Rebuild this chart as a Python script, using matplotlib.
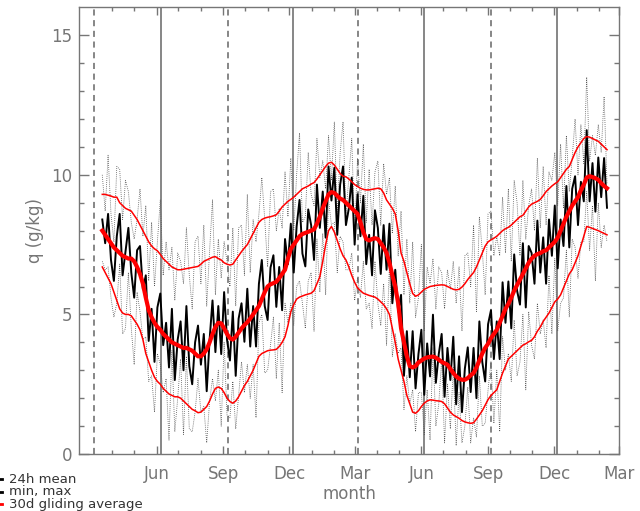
import matplotlib
matplotlib.use('Agg')
import matplotlib.pyplot as plt
from matplotlib.lines import Line2D
import numpy as np

plt.rcParams['font.family'] = ['DejaVu Sans']

GRAY = '#767676'

# day of series (days since 1 Jan of the first year), one value every 4 days
days = np.arange(76, 773, 4)

# 24h mean of specific humidity (g/kg)
q_mean = [8.4, 7.55, 8.6, 6.95, 6.2, 7.8, 8.6, 6.4, 7.25, 8.1,
          6.5, 5.6, 7.3, 7.45, 5.9, 6.4, 4.05, 5.2, 3.3, 5.25,
          5.75, 3.9, 4.7, 3.1, 5.2, 2.65, 4.1, 4.75, 3.0, 5.3,
          3.15, 2.5, 4.0, 4.6, 3.2, 4.3, 2.25, 4.1, 5.5, 3.65,
          5.3, 3.58, 5.8, 4.1, 3.35, 5.1, 2.8, 4.85, 5.4, 4.02,
          5.92, 3.85, 5.3, 3.85, 6.1, 6.95, 5.3, 4.8, 6.68, 7.12,
          5.27, 6.7, 5.15, 7.7, 6.8, 8.25, 6.5, 8.15, 9.1, 7.18,
          6.72, 8.76, 8.2, 6.95, 9.65, 8.1, 9.4, 7.75, 10.3, 9.08,
          10.25, 7.85, 9.65, 10.3, 8.2, 8.8, 9.9, 7.5, 9.3, 7.8,
          9.25, 6.8, 7.85, 6.4, 8.73, 8.1, 6.45, 8.2, 6.6, 8.25,
          5.4, 6.6, 5.1, 5.7, 2.8, 4.4, 2.75, 4.4, 2.35, 3.58,
          4.45, 2.12, 3.96, 2.78, 4.99, 2.55, 3.58, 4.3, 2.05, 3.8,
          2.65, 4.2, 1.78, 3.5, 1.5, 3.06, 3.82, 2.22, 3.8, 2.0,
          4.75, 3.3, 2.6, 4.65, 5.15, 3.4, 4.75, 3.4, 6.15, 4.7,
          6.18, 4.5, 7.15, 5.85, 5.35, 7.55, 5.25, 7.45, 7.2, 6.1,
          8.36, 6.5, 7.76, 6.1, 8.4, 7.1, 8.9, 6.65, 8.4, 7.45,
          9.6, 7.4, 9.5, 9.95, 8.2, 9.75, 9.05, 11.6, 9.05, 10.42,
          8.68, 10.62, 9.2, 10.6, 8.82]

# daily maximum
q_max = [10.0, 8.7, 10.7, 8.6, 7.6, 10.3, 10.2, 8.4, 9.8, 9.4,
         8.3, 7.7, 8.4, 9.5, 7.8, 8.9, 6.2, 8.3, 6.0, 7.6,
         9.1, 6.4, 7.6, 6.6, 7.4, 5.5, 7.2, 6.9, 6.1, 8.1,
         6.4, 5.2, 7.6, 7.8, 6.1, 8.2, 5.3, 7.3, 9.1, 5.7,
         7.7, 6.3, 7.6, 6.9, 6.0, 8.1, 5.3, 8.1, 8.2, 6.4,
         9.3, 6.5, 8.4, 7.6, 8.6, 9.9, 8.4, 6.7, 9.4, 9.5,
         8.0, 8.8, 8.1, 10.1, 8.5, 10.6, 8.0, 10.0, 11.5, 8.3,
         8.5, 10.8, 9.3, 8.9, 11.3, 9.9, 10.5, 9.5, 11.4, 9.8,
         11.9, 8.6, 10.8, 11.9, 8.6, 9.9, 11.3, 7.9, 10.6, 9.0,
         11.1, 8.3, 10.2, 8.2, 10.1, 10.5, 8.2, 10.4, 9.3, 9.9,
         7.9, 9.6, 7.1, 8.7, 5.7, 7.7, 5.4, 7.6, 4.9, 5.6,
         7.5, 4.4, 6.7, 6.1, 7.0, 5.2, 6.7, 6.5, 5.2, 6.6,
         5.9, 6.9, 5.4, 6.7, 4.4, 7.1, 7.2, 6.0, 8.2, 5.1,
         8.5, 7.3, 5.7, 8.6, 8.7, 7.1, 7.8, 7.1, 9.2, 7.2,
         9.5, 6.9, 9.8, 9.0, 7.1, 9.8, 7.7, 8.9, 9.5, 8.0,
         10.6, 8.1, 10.3, 8.2, 10.1, 9.8, 10.8, 8.9, 11.1, 8.8,
         11.4, 9.4, 10.6, 12.0, 10.0, 11.8, 10.4, 13.5, 10.5, 11.4,
         10.7, 11.8, 10.8, 12.8, 9.7]

# daily minimum
q_min = [6.9, 6.6, 6.7, 5.6, 4.9, 5.4, 6.8, 4.3, 4.5, 6.5,
         4.5, 3.2, 5.8, 5.1, 4.1, 4.2, 2.6, 2.8, 1.5, 3.6,
         3.2, 2.2, 2.7, 0.5, 3.7, 0.8, 2.0, 3.4, 0.7, 3.5,
         0.9, 0.8, 1.5, 2.7, 1.5, 1.7, 0.4, 1.9, 2.7, 1.9,
         3.0, 1.0, 4.0, 1.4, 1.3, 2.6, 0.9, 2.1, 3.3, 2.2,
         3.2, 2.0, 3.2, 1.3, 4.7, 5.0, 2.9, 3.0, 3.9, 4.9,
         2.7, 4.7, 2.2, 5.4, 4.7, 5.4, 4.6, 6.0, 6.2, 5.4,
         4.5, 6.2, 6.5, 4.4, 7.7, 5.8, 7.9, 5.7, 9.1, 8.2,
         8.3, 6.5, 7.8, 7.6, 6.6, 6.6, 7.2, 5.5, 6.3, 5.6,
         6.9, 5.2, 5.4, 4.5, 6.9, 5.4, 4.6, 6.1, 3.9, 6.8,
         3.5, 4.3, 3.6, 3.8, 1.6, 2.8, 1.8, 2.3, 0.8, 2.2,
         2.2, 0.7, 2.3, 0.5, 3.8, 1.0, 1.8, 3.4, 0.4, 2.5,
         0.9, 3.1, 0.3, 2.2, 0.4, 1.0, 2.4, 0.4, 1.3, 0.6,
         2.8, 1.0, 1.1, 2.3, 3.3, 1.1, 3.0, 0.8, 4.2, 3.0,
         3.6, 2.6, 4.8, 2.8, 3.3, 5.0, 2.3, 5.1, 3.9, 3.4,
         5.4, 4.3, 4.8, 3.8, 6.4, 4.3, 7.0, 4.4, 5.4, 5.6,
         7.3, 4.9, 7.7, 7.4, 6.3, 7.6, 7.6, 9.4, 7.3, 8.9,
         6.2, 9.0, 7.4, 8.2, 7.6]

# 30 day gliding averages of mean, max and min
avg_mean = [8.0, 7.85, 7.7, 7.55, 7.4, 7.3, 7.2, 7.1, 7.05, 7.0,
            7.0, 6.9, 6.7, 6.45, 6.1, 5.6, 5.15, 4.9, 4.7, 4.55,
            4.45, 4.3, 4.2, 4.1, 4.0, 3.95, 3.9, 3.85, 3.8, 3.8,
            3.75, 3.7, 3.6, 3.5, 3.5, 3.6, 3.75, 4.0, 4.3, 4.55,
            4.7, 4.68, 4.5, 4.3, 4.15, 4.1, 4.2, 4.35, 4.5, 4.62,
            4.72, 4.85, 5.0, 5.15, 5.3, 5.55, 5.8, 6.0, 6.08, 6.12,
            6.17, 6.3, 6.45, 6.6, 7.0, 7.35, 7.5, 7.65, 7.8, 7.88,
            7.92, 7.96, 8.0, 8.05, 8.25, 8.5, 8.8, 9.05, 9.3, 9.38,
            9.35, 9.25, 9.15, 9.1, 9.0, 8.9, 8.8, 8.7, 8.6, 8.3,
            7.95, 7.7, 7.65, 7.7, 7.73, 7.7, 7.55, 7.4, 7.2, 6.85,
            6.4, 6.0, 5.4, 4.5, 4.0, 3.5, 3.15, 3.1, 3.15, 3.28,
            3.35, 3.42, 3.46, 3.48, 3.49, 3.45, 3.38, 3.3, 3.25, 3.2,
            3.05, 2.9, 2.78, 2.7, 2.66, 2.66, 2.72, 2.82, 2.9, 3.1,
            3.35, 3.6, 3.8, 3.95, 4.15, 4.3, 4.45, 4.7, 4.95, 5.2,
            5.38, 5.6, 5.85, 6.05, 6.25, 6.45, 6.65, 6.85, 7.0, 7.1,
            7.16, 7.2, 7.26, 7.3, 7.4, 7.5, 7.6, 7.75, 8.0, 8.25,
            8.5, 8.7, 8.9, 9.05, 9.2, 9.45, 9.65, 9.9, 9.95, 9.92,
            9.88, 9.82, 9.7, 9.6, 9.52]

avg_max = [9.3, 9.3, 9.27, 9.24, 9.2, 9.2, 9.0, 8.9, 8.8, 8.75,
           8.7, 8.55, 8.4, 8.2, 8.0, 7.8, 7.6, 7.45, 7.35, 7.28,
           7.15, 7.0, 6.9, 6.8, 6.7, 6.65, 6.6, 6.6, 6.62, 6.64,
           6.66, 6.68, 6.7, 6.72, 6.8, 6.9, 6.95, 7.0, 7.05, 7.07,
           7.0, 6.95, 6.85, 6.8, 6.77, 6.8, 6.95, 7.1, 7.25, 7.38,
           7.5, 7.7, 7.9, 8.1, 8.3, 8.4, 8.45, 8.48, 8.5, 8.53,
           8.57, 8.7, 8.85, 8.95, 9.05, 9.12, 9.2, 9.3, 9.4, 9.5,
           9.55, 9.6, 9.67, 9.72, 9.85, 10.0, 10.15, 10.3, 10.42, 10.45,
           10.35, 10.2, 10.05, 9.95, 9.93, 9.85, 9.75, 9.65, 9.58, 9.52,
           9.48, 9.46, 9.46, 9.48, 9.5, 9.52, 9.5, 9.35, 9.1, 8.95,
           8.8, 8.6, 8.0, 7.2, 6.9, 6.5, 6.1, 5.75, 5.65, 5.7,
           5.8, 5.9, 5.95, 6.0, 6.02, 6.04, 6.05, 6.06, 6.05, 6.0,
           5.95, 5.9, 5.88, 5.9, 5.98, 6.1, 6.25, 6.38, 6.5, 6.7,
           6.95, 7.2, 7.45, 7.6, 7.67, 7.73, 7.8, 7.9, 8.0, 8.07,
           8.12, 8.2, 8.3, 8.4, 8.5, 8.55, 8.7, 8.85, 8.95, 9.0,
           9.05, 9.12, 9.25, 9.4, 9.5, 9.6, 9.68, 9.75, 9.9, 10.05,
           10.2, 10.3, 10.55, 10.8, 11.0, 11.15, 11.3, 11.37, 11.35, 11.3,
           11.25, 11.2, 11.1, 11.0, 10.9]

avg_min = [6.7, 6.5, 6.3, 6.1, 5.8, 5.5, 5.2, 5.05, 5.0, 5.0,
           4.95, 4.8, 4.65, 4.45, 4.1, 3.6, 3.3, 3.0, 2.75, 2.6,
           2.5, 2.35, 2.25, 2.15, 2.1, 2.05, 2.05, 2.0, 1.9, 1.8,
           1.7, 1.6, 1.55, 1.48, 1.5, 1.6, 1.7, 1.9, 2.15, 2.35,
           2.4, 2.35, 2.2, 2.0, 1.88, 1.82, 1.9, 2.05, 2.25, 2.45,
           2.6, 2.8, 3.0, 3.25, 3.5, 3.6, 3.65, 3.7, 3.72, 3.73,
           3.75, 3.85, 4.0, 4.2, 4.6, 5.1, 5.35, 5.55, 5.62, 5.66,
           5.7, 5.73, 5.76, 5.85, 6.1, 6.35, 6.9, 7.5, 8.0, 8.15,
           7.95, 7.65, 7.35, 7.1, 6.95, 6.7, 6.4, 6.15, 5.95, 5.85,
           5.76, 5.72, 5.68, 5.65, 5.62, 5.55, 5.45, 5.35, 5.2, 5.0,
           4.5, 4.0, 3.4, 3.0, 2.6, 2.1, 1.8, 1.5, 1.46, 1.55,
           1.7, 1.82, 1.9, 1.94, 1.93, 1.91, 1.9, 1.88, 1.8, 1.65,
           1.5, 1.4, 1.34, 1.28, 1.2, 1.15, 1.12, 1.1, 1.12, 1.25,
           1.4, 1.55, 1.75, 1.95, 2.1, 2.2, 2.3, 2.6, 2.9, 3.15,
           3.4, 3.5, 3.6, 3.7, 3.8, 3.9, 3.95, 4.02, 4.07, 4.2,
           4.4, 4.55, 4.75, 4.9, 5.05, 5.25, 5.45, 5.55, 5.7, 5.95,
           6.2, 6.45, 6.6, 6.85, 7.1, 7.45, 7.8, 8.15, 8.12, 8.08,
           8.04, 8.0, 7.95, 7.9, 7.85]

# axis: months (day of series at first of month)
major_days = [151, 243, 334, 424, 516, 608, 699, 789]
major_labels = ['Jun', 'Sep', 'Dec', 'Mar', 'Jun', 'Sep', 'Dec', 'Mar']
minor_days = [90, 120, 181, 212, 273, 304, 365, 396, 455, 485,
              546, 577, 638, 669, 730, 761]
# season markers
vline_days = [64.5, 156.5, 249, 339.5, 429, 519.6, 612, 703.5]
vline_dashed = [True, False, True, False, True, False, True, False]

fig = plt.figure(figsize=(6.4, 5.11), dpi=100)
ax = fig.add_axes([0.1239, 0.1115, 0.8438, 0.8742])

for d, dashed in zip(vline_days, vline_dashed):
    ax.axvline(d, color='#666666', lw=1.1,
               ls=(0, (4, 3)) if dashed else '-', zorder=1)

ax.plot(days, q_max, color='#555555', lw=0.6, ls=(0, (1, 1.5)), zorder=2)
ax.plot(days, q_min, color='#555555', lw=0.6, ls=(0, (1, 1.5)), zorder=2)
ax.plot(days, q_mean, color='black', lw=1.4, zorder=3)

ax.plot(days, avg_max, color='red', lw=1.1, zorder=4)
ax.plot(days, avg_min, color='red', lw=1.1, zorder=4)
ax.plot(days, avg_mean, color='red', lw=3.0, zorder=5)

ax.set_xlim(44.3, 789)
ax.set_ylim(0, 16)
ax.set_xticks(major_days)
ax.set_xticklabels(major_labels)
ax.set_xticks(minor_days, minor=True)
ax.set_yticks([0, 5, 10, 15])
ax.set_yticks(range(0, 16), minor=True)

for s in ax.spines.values():
    s.set_color(GRAY)
    s.set_linewidth(1.0)
ax.tick_params(axis='both', which='both', direction='in', color=GRAY,
               labelcolor=GRAY, top=True, right=True, labelsize=12)
ax.tick_params(axis='y', which='major', length=7.5, width=1, pad=5)
ax.tick_params(axis='y', which='minor', length=3.6, width=1)
ax.tick_params(axis='x', which='major', length=6, width=1, pad=8)
ax.tick_params(axis='x', which='minor', length=3.2, width=1)

ax.set_xlabel('month', color=GRAY, fontsize=12, labelpad=1)
ax.set_ylabel('q (g/kg)', color=GRAY, fontsize=12, labelpad=5)

# legend in the lower left corner (partly cut by the figure edge)
leg_items = [('24h mean', 'black'), ('min, max', 'black'),
             ('30d gliding average', 'red')]
for k, (txt, col) in enumerate(leg_items):
    yy = (511 - 479 - 12.5 * k) / 511
    fig.add_artist(Line2D([-0.004, 0.003], [yy, yy], color=col, lw=2,
                          transform=fig.transFigure))
    fig.text(9 / 640, yy, txt, color='#333333', fontsize=9.5, va='center')

fig.savefig('out.png', dpi=100)
